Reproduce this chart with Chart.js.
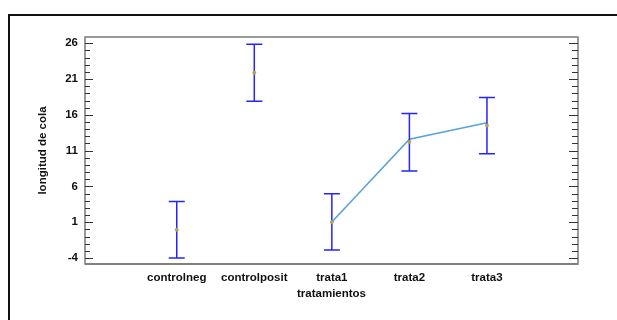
<!DOCTYPE html>
<html>
<head>
<meta charset="utf-8">
<script src="https://cdn.jsdelivr.net/npm/chart.js@4"></script>
<style>
  html, body { margin: 0; padding: 0; background: #ffffff; }
  #wrap { width: 617px; height: 320px; }
</style>
</head>
<body>
<div id="wrap"><canvas id="c" width="617" height="320"></canvas></div>
<script>
// ---- data ----
const categories = ['controlneg', 'controlposit', 'trata1', 'trata2', 'trata3'];
const means = [-0.05, 21.88, 1.02, 12.2, 14.5];
const upperLimits = [3.9, 25.86, 4.97, 16.18, 18.41];
const lowerLimits = [-4.0, 17.9, -2.88, 8.14, 10.55];
const lineCategories = ['trata1', 'trata2', 'trata3'];
const lineValues = [1.02, 12.6, 14.9];
const yTickValues = [-4, 1, 6, 11, 16, 21, 26];
const yTitle = 'longitud de cola';
const xTitle = 'tratamientos';

const FONT = "'Liberation Sans', Arial, sans-serif";

const meanPoints = categories.map((c, i) => ({ x: i, y: means[i] }));
const linePoints = lineCategories.map((c, i) => ({ x: categories.indexOf(c), y: lineValues[i] }));

const decorPlugin = {
  id: 'decor',
  beforeDraw(chart) {
    const ctx = chart.ctx;
    ctx.save();
    ctx.fillStyle = '#ffffff';
    ctx.fillRect(0, 0, chart.width, chart.height);
    // outer black frame (top and left visible)
    ctx.strokeStyle = '#111111';
    ctx.lineWidth = 2;
    ctx.beginPath();
    ctx.moveTo(9, chart.height);
    ctx.lineTo(9, 15);
    ctx.lineTo(chart.width, 15);
    ctx.stroke();
    ctx.restore();
  },
  afterDatasetsDraw(chart) {
    const ctx = chart.ctx;
    const xs = chart.scales.x, ys = chart.scales.y;
    const a = chart.chartArea;
    ctx.save();
    // error bars
    ctx.strokeStyle = '#2424ff';
    ctx.lineWidth = 1.5;
    for (let i = 0; i < categories.length; i++) {
      const px = xs.getPixelForValue(i);
      const pu = ys.getPixelForValue(upperLimits[i]);
      const pl = ys.getPixelForValue(lowerLimits[i]);
      ctx.beginPath();
      ctx.moveTo(px, pu); ctx.lineTo(px, pl);
      ctx.moveTo(px - 8, pu); ctx.lineTo(px + 8, pu);
      ctx.moveTo(px - 8, pl); ctx.lineTo(px + 8, pl);
      ctx.stroke();
    }
    // mean markers
    ctx.fillStyle = 'rgba(176,168,90,0.95)';
    for (let i = 0; i < categories.length; i++) {
      ctx.beginPath();
      ctx.arc(xs.getPixelForValue(i), ys.getPixelForValue(means[i]), 2, 0, Math.PI * 2);
      ctx.fill();
    }
    // plot frame
    ctx.strokeStyle = '#7a7a7a';
    ctx.lineWidth = 1.5;
    ctx.strokeRect(a.left, a.top, a.right - a.left, a.bottom - a.top);
    ctx.lineWidth = 2;
    ctx.strokeStyle = '#808080';
    ctx.beginPath();
    ctx.moveTo(a.left, a.bottom); ctx.lineTo(a.right, a.bottom);
    ctx.stroke();
    // y ticks (inside, both sides)
    ctx.strokeStyle = '#333333';
    ctx.lineWidth = 1.2;
    const first = yTickValues[0], last = yTickValues[yTickValues.length - 1];
    for (let v = first; v <= last; v++) {
      const major = yTickValues.includes(v);
      const py = Math.round(ys.getPixelForValue(v)) + 0.5;
      ctx.beginPath();
      ctx.moveTo(a.left, py); ctx.lineTo(a.left + (major ? 8 : 5), py);
      ctx.moveTo(a.right, py); ctx.lineTo(a.right - (major ? 9 : 6), py);
      ctx.stroke();
    }
    ctx.restore();
  }
};

new Chart(document.getElementById('c'), {
  type: 'scatter',
  data: {
    datasets: [
      {
        type: 'line',
        data: linePoints,
        borderColor: '#5aa2da',
        borderWidth: 1.6,
        pointRadius: 0,
        fill: false,
        tension: 0
      },
      {
        type: 'scatter',
        data: meanPoints,
        pointRadius: 0,
        showLine: false
      }
    ]
  },
  options: {
    responsive: false,
    animation: false,
    events: [],
    layout: { padding: { left: 0, top: 37, right: 39, bottom: 0 } },
    plugins: { legend: { display: false }, tooltip: { enabled: false } },
    scales: {
      x: {
        type: 'linear',
        min: -1.183,
        max: 5.174,
        afterFit(s) { s.height = 56; },
        afterBuildTicks(s) { s.ticks = categories.map((c, i) => ({ value: i })); },
        grid: { display: false, drawTicks: false },
        border: { display: false },
        ticks: {
          autoSkip: false,
          maxRotation: 0,
          padding: 7,
          color: '#111111',
          font: { family: FONT, size: 11.5, weight: 'bold' },
          callback: (v) => categories[v] !== undefined ? categories[v] : ''
        },
        title: {
          display: true,
          text: xTitle,
          color: '#111111',
          font: { family: FONT, size: 11.5, weight: 'bold' },
          padding: { top: 0, bottom: 19 }
        }
      },
      y: {
        type: 'linear',
        min: -4.84,
        max: 26.88,
        afterFit(s) { s.width = 85; },
        afterBuildTicks(s) { s.ticks = yTickValues.map(v => ({ value: v })); },
        grid: { display: false, drawTicks: false },
        border: { display: false },
        ticks: {
          padding: 7,
          color: '#111111',
          font: { family: FONT, size: 11.5, weight: 'bold' }
        },
        title: {
          display: true,
          text: yTitle,
          color: '#111111',
          font: { family: FONT, size: 11.5, weight: 'bold' },
          padding: { top: 36, bottom: 0 }
        }
      }
    }
  },
  plugins: [decorPlugin]
});
</script>
</body>
</html>
